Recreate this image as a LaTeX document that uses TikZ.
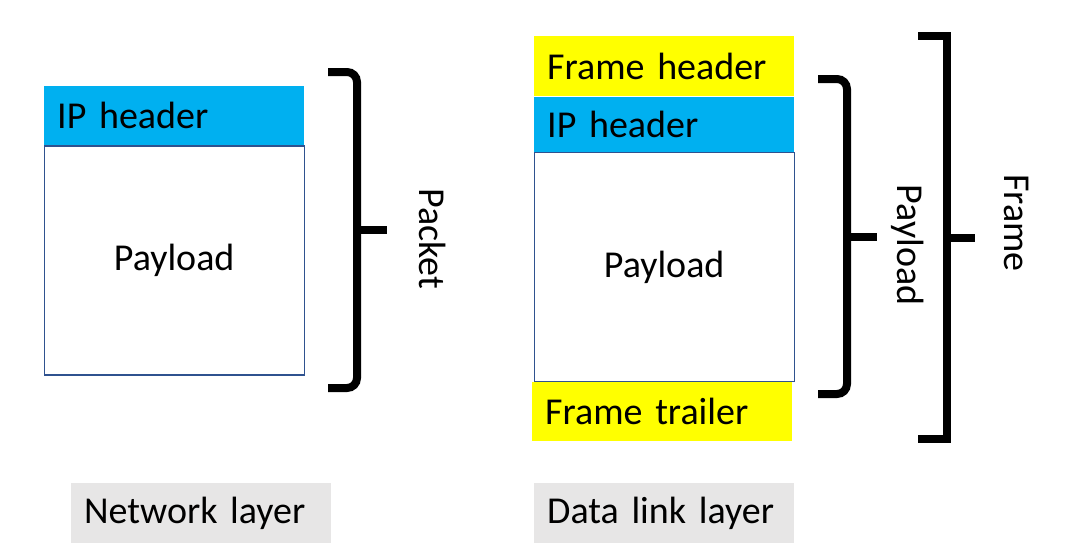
\documentclass[tikz,border=0pt]{standalone}
\usepackage{fontspec}
\setmainfont{Carlito}
\usepackage{tikz}
\usetikzlibrary{positioning}
\definecolor{hdrcyan}{HTML}{00B0F0}
\definecolor{frmyel}{HTML}{FFFF00}
\definecolor{laygray}{HTML}{E7E6E6}
\definecolor{edgeblue}{HTML}{2F528F}

\begin{document}
\begin{tikzpicture}[
    x=1pt, y=-1pt,
    txt/.style     = {font=\fontsize{38}{40}\selectfont},
    rowbox/.style  = {txt, inner ysep=0pt, inner xsep=13pt,
                      text width=234pt, align=left,
                      minimum height=59pt},
    hdrbox/.style  = {rowbox, fill=hdrcyan},
    frmbox/.style  = {rowbox, fill=frmyel},
    laybox/.style  = {rowbox, fill=laygray, minimum height=60pt},
    paybox/.style  = {txt, draw=edgeblue, line width=1.3pt, fill=white,
                      minimum width=260pt, minimum height=229pt},
    brc/.style     = {line width=8pt, rounded corners=10pt},
    lbl/.style     = {txt, rotate=-90}
  ]
  \useasboundingbox (0,0) rectangle (1070,550);

  %% Network layer
  \node[hdrbox, anchor=north west] (iph) at (44,86) {IP header};
  \node[paybox, below=0pt of iph] (pay) {Payload};

  \draw[brc] (328,72) -- (357,72) -- (357,388) -- (328,388);
  \draw[brc] (357,230) -- (387,230);
  \node[lbl] (pkt) at (433,239) {Packet};

  \node[laybox, anchor=north west] (netl) at (71,483) {Network layer};

  %% Data link layer
  \node[frmbox, anchor=north west, minimum height=60pt] (fhd) at (534,36)
        {Frame header};
  \node[hdrbox, below=0pt of fhd, minimum height=55pt] (iph2) {IP header};
  \node[paybox, below=0pt of iph2] (pay2) {Payload};
  \node[frmbox, below=0pt of pay2, xshift=-2pt] (ftr) {Frame trailer};

  \draw[brc] (818,79) -- (847,79) -- (847,394) -- (818,394);
  \draw[brc] (847,237) -- (877,237);
  \node[lbl] (payl) at (908,245) {Payload};

  \draw[line width=8pt] (918,36) -- (947,36) -- (947,439) -- (918,439);
  \draw[line width=8pt] (947,238) -- (975,238);
  \node[lbl] (frm) at (1017,223) {Frame};

  \node[laybox, anchor=north west] (dll) at (534,483) {Data link layer};

\end{tikzpicture}
\end{document}
